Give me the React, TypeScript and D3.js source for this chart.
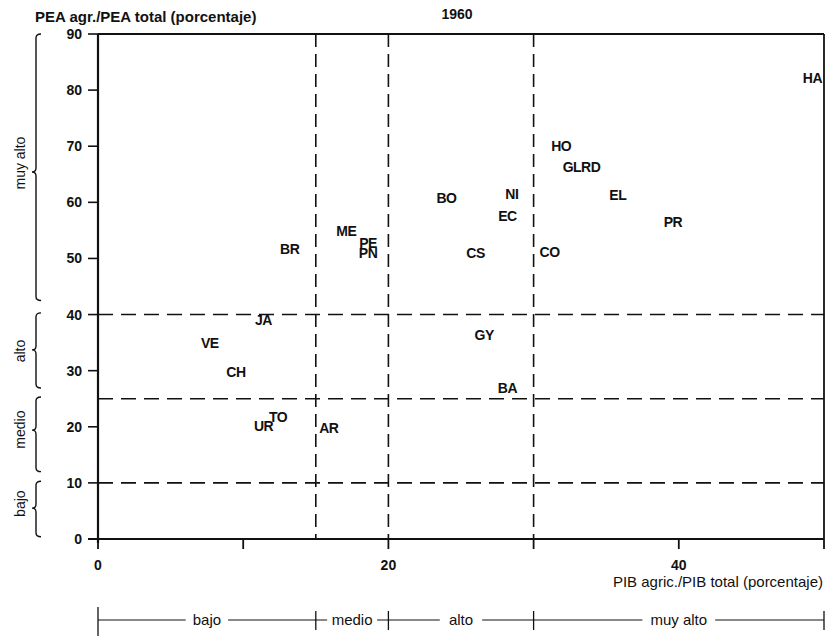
import React from "react";
import * as d3 from "d3";

const countries = ["HA", "HO", "GLRD", "EL", "PR", "BO", "NI", "EC", "CS", "CO", "BR", "ME", "PE", "PN", "JA", "VE", "CH", "UR", "TO", "AR", "GY", "BA"];
const pibAgr = [49.2, 31.9, 33.3, 35.8, 39.6, 24.0, 28.5, 28.2, 26.0, 31.1, 13.2, 17.1, 18.6, 18.6, 11.4, 7.7, 9.5, 11.4, 12.4, 15.9, 26.6, 28.2];
const peaAgr = [82.2, 70.0, 66.3, 61.3, 56.5, 60.8, 61.5, 57.6, 51.0, 51.2, 51.7, 54.9, 52.8, 51.0, 39.0, 34.9, 29.8, 20.1, 21.7, 19.8, 36.4, 26.9];

const xTicks = [0, 10, 20, 30, 40, 50];
const xTickLabels = ["0", "", "20", "", "40", ""];
const yTicks = [0, 10, 20, 30, 40, 50, 60, 70, 80, 90];
const xCuts = [15, 20, 30];
const yCuts = [40, 25, 10];

const yBands = [
  { label: "muy alto", top: 90, bottom: 42.5, mid: 65.4, textMid: 67 },
  { label: "alto", top: 40.3, bottom: 26.9, mid: 33.7, textMid: 33.5 },
  { label: "medio", top: 25.3, bottom: 12, mid: 19.4, textMid: 19.5 },
  { label: "bajo", top: 10.3, bottom: 0.4, mid: 5.5, textMid: 6.3 },
];
const xBandEdges = [0, 15, 20, 30, 50];
const xBandLabels = ["bajo", "medio", "alto", "muy alto"];

const W = 828, H = 638;
const x = d3.scaleLinear().domain([0, 50]).range([98, 824]);
const y = d3.scaleLinear().domain([0, 90]).range([539, 34]);

function bracePath(xl: number, y0: number, y1: number, ym: number) {
  const r = 4;
  return `M${xl + 5},${y0} Q${xl},${y0} ${xl},${y0 + r} L${xl},${ym - r} Q${xl},${ym} ${xl - r},${ym} Q${xl},${ym} ${xl},${ym + r} L${xl},${y1 - r} Q${xl},${y1} ${xl + 5},${y1}`;
}

const font = "'Liberation Sans', Arial, sans-serif";
const boldFont = "'Liberation Sans', Arial, sans-serif";

export default function App() {
  const bottomY = 620;
  return (
    <svg width={W} height={H} style={{ position: "absolute", left: 0, top: 0, background: "#fff" }}>
      <rect x={0} y={0} width={W} height={H} fill="#fff" />
      {/* titles */}
      <text x={35} y={22} fontFamily={font} fontSize={15} fontWeight={700} fill="#111">PEA agr./PEA total (porcentaje)</text>
      <text x={457} y={19} fontFamily={font} fontSize={14} fontWeight={700} fill="#111" textAnchor="middle">1960</text>

      {/* dashed cut lines */}
      {xCuts.map((c) => (
        <line key={"xc" + c} x1={x(c)} x2={x(c)} y1={y(90)} y2={y(0)} stroke="#111" strokeWidth={1.6} strokeDasharray="13,7" />
      ))}
      {yCuts.map((c) => (
        <line key={"yc" + c} x1={x(0)} x2={x(50)} y1={y(c)} y2={y(c)} stroke="#111" strokeWidth={1.6} strokeDasharray="15,8" />
      ))}

      {/* frame */}
      <line x1={x(0)} x2={x(50)} y1={y(90)} y2={y(90)} stroke="#111" strokeWidth={1.8} />
      <line x1={x(50)} x2={x(50)} y1={y(90)} y2={y(0)} stroke="#111" strokeWidth={1.8} />
      <line x1={x(0)} x2={x(0)} y1={y(90)} y2={y(0) + 4} stroke="#111" strokeWidth={2.2} />
      <line x1={x(0) - 10} x2={x(50)} y1={y(0)} y2={y(0)} stroke="#111" strokeWidth={2.2} />

      {/* y ticks */}
      {yTicks.map((t) => (
        <g key={"yt" + t}>
          <line x1={x(0) - 10} x2={x(0)} y1={y(t)} y2={y(t)} stroke="#111" strokeWidth={1.6} />
          <text x={x(0) - 16} y={y(t) + 5} fontFamily={boldFont} fontSize={14} fontWeight={700} textAnchor="end" fill="#111">{t}</text>
        </g>
      ))}
      {/* x ticks */}
      {xTicks.map((t, i) => (
        <g key={"xt" + t}>
          <line x1={x(t)} x2={x(t)} y1={y(0)} y2={y(0) + 10} stroke="#111" strokeWidth={1.8} />
          {xTickLabels[i] && (
            <text x={x(t)} y={570} fontFamily={boldFont} fontSize={14} fontWeight={700} textAnchor="middle" fill="#111">{xTickLabels[i]}</text>
          )}
        </g>
      ))}
      <text x={823} y={587} fontFamily={font} fontSize={15} fontWeight={400} textAnchor="end" fill="#111">PIB agric./PIB total (porcentaje)</text>

      {/* left braces */}
      {yBands.map((b) => (
        <g key={"yb" + b.label}>
          <path d={bracePath(36, y(b.top), y(b.bottom), y(b.mid))} fill="none" stroke="#111" strokeWidth={1.4} />
          <text transform={`translate(25,${y(b.textMid)}) rotate(-90)`} fontFamily={font} fontSize={14} textAnchor="middle" fill="#111">{b.label}</text>
        </g>
      ))}

      {/* bottom scale */}
      {xBandLabels.map((lab, i) => {
        const a = x(xBandEdges[i]);
        const b = x(xBandEdges[i + 1]);
        const m = (a + b) / 2;
        const half = lab.length * 3.8 + 6;
        return (
          <g key={"xb" + lab}>
            <line x1={a} x2={m - half} y1={bottomY} y2={bottomY} stroke="#111" strokeWidth={1} />
            <line x1={m + half} x2={b} y1={bottomY} y2={bottomY} stroke="#111" strokeWidth={1} />
            <text x={m} y={bottomY + 5} fontFamily={font} fontSize={15} textAnchor="middle" fill="#111">{lab}</text>
          </g>
        );
      })}
      {xBandEdges.map((e, i) => (
        <line key={"xe" + e} x1={x(e)} x2={x(e)} y1={i === 0 ? 607 : 611} y2={i === 0 ? 636 : 630} stroke="#111" strokeWidth={1.3} />
      ))}

      {/* points as labels */}
      {countries.map((c, i) => (
        <text key={c} x={x(pibAgr[i])} y={y(peaAgr[i]) + 5} fontFamily={boldFont} fontSize={14} fontWeight={700} textAnchor="middle" fill="#111" letterSpacing={-0.5}>{c}</text>
      ))}
    </svg>
  );
}
